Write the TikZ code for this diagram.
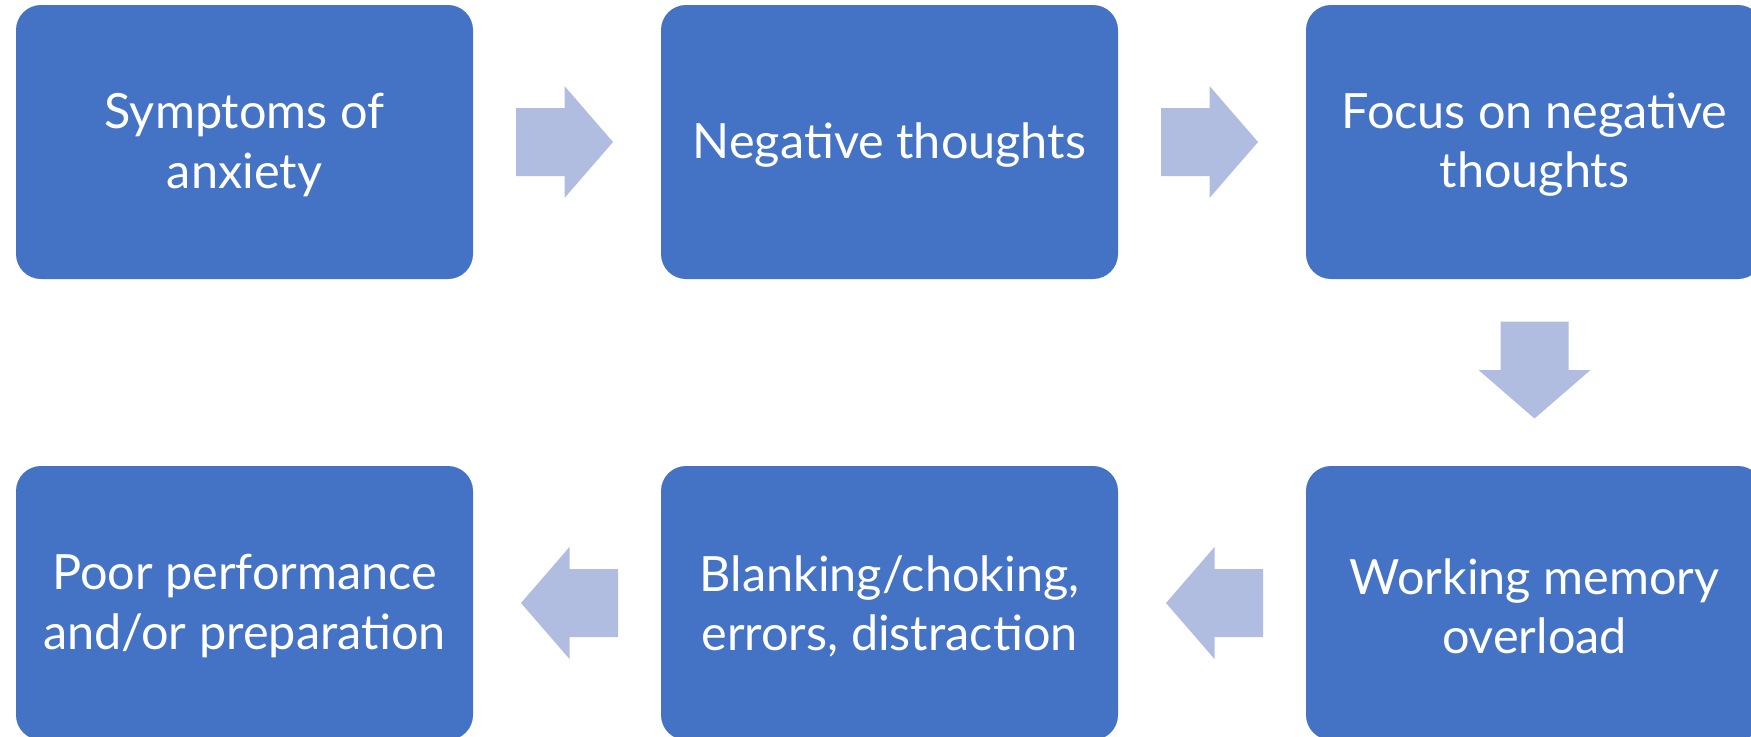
\documentclass[tikz,border=0pt]{standalone}
\usepackage{fontspec}
\setmainfont{Lato}
\usetikzlibrary{calc}
\definecolor{boxblue}{HTML}{4472C4}
\definecolor{arrowblue}{HTML}{B0BDE0}
\tikzset{
  stagebox/.style={rectangle, rounded corners=12.5pt, fill=boxblue,
    minimum width=228.5pt, minimum height=137pt, inner sep=0pt},
  stagetext/.style={text=white, align=center, inner sep=0pt,
    font=\fontsize{24.3}{29.6}\selectfont, yshift=-1.5pt},
  flowarrow/.style={fill=arrowblue, draw=none},
  % block arrow pointing along +x, drawn around the current origin
  pics/blockarrow/.style={code={
    \fill[flowarrow] (-51,-34) -- (-2.5,-34) -- (-2.5,-56) -- (46,0)
      -- (-2.5,56) -- (-2.5,34) -- (-51,34) -- cycle;
  }}
}
\begin{document}
\begin{tikzpicture}[x=0.5pt, y=-0.5pt]
  \clip (0,0) rectangle (1751,736);
  % stages of the anxiety cycle
  \node[stagebox] (s1) at (244.5,142) {};
  \node[stagebox] (s2) at (889.5,142) {};
  \node[stagebox] (s3) at (1534.5,142) {};
  \node[stagebox] (s4) at (1534.5,603) {};
  \node[stagebox] (s5) at (889.5,603) {};
  \node[stagebox] (s6) at (244.5,603) {};
  \node[stagetext] (t1) at (s1) {Symptoms of\\anxiety};
  \node[stagetext] (t2) at (s2) {Negative thoughts};
  \node[stagetext] (t3) at (s3) {Focus on negative\\thoughts};
  \node[stagetext] (t4) at (s4) {Working memory\\overload};
  \node[stagetext] (t5) at (s5) {Blanking/choking,\\errors, distraction};
  \node[stagetext] (t6) at (s6) {Poor performance\\and/or preparation};
  % block arrows between stages
  \coordinate (a12) at ($(s1.east)!0.5!(s2.west)$);
  \coordinate (a23) at ($(s2.east)!0.5!(s3.west)$);
  \coordinate (a34) at ($(s3.south)!0.5!(s4.north)$);
  \coordinate (a45) at ($(s4.west)!0.5!(s5.east)$);
  \coordinate (a56) at ($(s5.west)!0.5!(s6.east)$);
  \pic at (a12) {blockarrow};
  \pic at (a23) {blockarrow};
  \pic[rotate=-90] at (a34) {blockarrow};
  \pic[rotate=180] at (a45) {blockarrow};
  \pic[rotate=180] at (a56) {blockarrow};
\end{tikzpicture}
\end{document}
